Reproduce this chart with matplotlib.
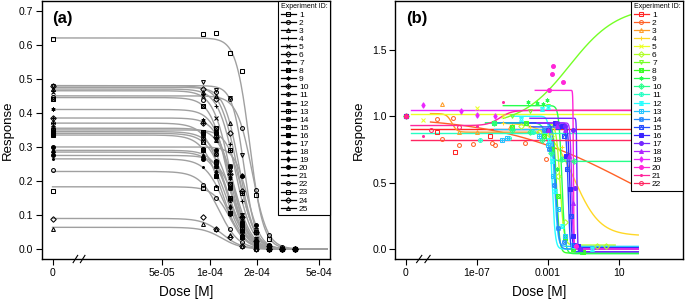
import colorsys
import numpy as np
import matplotlib
matplotlib.use("Agg")
import matplotlib.pyplot as plt
from matplotlib.lines import Line2D

plt.rcParams['font.family'] = ['Liberation Sans', 'DejaVu Sans']

# ---------------- panel (a): 25 experiments, grey fits ----------------
a_doses = [0, 9.1e-5, 1.105e-4, 1.34e-4, 1.62e-4, 1.97e-4, 2.39e-4, 2.9e-4, 3.5e-4]
a_zero = 1e-5          # where dose 0 sits on the broken log axis

a_top = [0.62, 0.45, 0.475, 0.47, 0.465, 0.48, 0.48, 0.445, 0.41, 0.385, 0.37, 0.355, 0.35,
         0.345, 0.34, 0.335, 0.30, 0.29, 0.285, 0.275, 0.265, 0.228, 0.183, 0.09, 0.064]
a_ed50 = [1.80e-4, 1.87e-4, 1.55e-4, 1.45e-4, 1.35e-4, 1.50e-4, 1.66e-4, 1.30e-4, 1.35e-4,
          1.40e-4, 1.25e-4, 1.45e-4, 1.60e-4, 1.35e-4, 1.30e-4, 1.20e-4, 1.75e-4, 1.35e-4,
          1.30e-4, 1.45e-4, 1.25e-4, 1.15e-4, 1.35e-4, 1.20e-4, 1.20e-4]
a_slope = [10, 9, 9, 8, 8, 8, 11.5, 8, 8, 8, 7, 8, 9, 7, 7, 7, 10, 8, 8, 8, 7, 7, 8, 7, 7]

a_resp = [
    [0.617, 0.633, 0.635, 0.577, 0.523, 0.16, 0.03, 0.0, 0.0],
    [0.448, 0.438, 0.46, 0.44, 0.355, 0.173, 0.04, 0.005, 0.0],
    [0.47, 0.46, 0.45, 0.37, 0.217, 0.05, 0.01, 0.0, 0.0],
    [0.465, 0.455, 0.42, 0.31, 0.14, 0.03, 0.01, 0.0, 0.0],
    [0.46, 0.45, 0.385, 0.245, 0.09, 0.02, 0.0, 0.0, 0.0],
    [0.48, 0.47, 0.44, 0.34, 0.17, 0.05, 0.01, 0.0, 0.0],
    [0.48, 0.49, 0.468, 0.443, 0.276, 0.056, 0.005, 0.0, 0.0],
    [0.44, 0.42, 0.355, 0.19, 0.07, 0.01, 0.0, 0.0, 0.0],
    [0.41, 0.38, 0.34, 0.21, 0.08, 0.02, 0.0, 0.0, 0.0],
    [0.385, 0.37, 0.33, 0.22, 0.095, 0.025, 0.0, 0.0, 0.0],
    [0.37, 0.335, 0.26, 0.145, 0.05, 0.015, 0.0, 0.0, 0.0],
    [0.355, 0.345, 0.32, 0.235, 0.10, 0.03, 0.005, 0.0, 0.0],
    [0.35, 0.345, 0.34, 0.29, 0.165, 0.05, 0.01, 0.0, 0.0],
    [0.345, 0.325, 0.28, 0.18, 0.075, 0.02, 0.0, 0.0, 0.0],
    [0.34, 0.315, 0.255, 0.15, 0.06, 0.02, 0.0, 0.0, 0.0],
    [0.335, 0.29, 0.215, 0.105, 0.035, 0.01, 0.0, 0.0, 0.0],
    [0.30, 0.295, 0.29, 0.245, 0.215, 0.07, 0.012, 0.0, 0.0],
    [0.29, 0.275, 0.245, 0.15, 0.055, 0.015, 0.0, 0.0, 0.0],
    [0.285, 0.27, 0.225, 0.125, 0.04, 0.01, 0.0, 0.0, 0.0],
    [0.275, 0.265, 0.245, 0.18, 0.08, 0.02, 0.0, 0.0, 0.0],
    [0.265, 0.24, 0.185, 0.10, 0.035, 0.01, 0.0, 0.0, 0.0],
    [0.232, 0.188, 0.15, 0.06, 0.02, 0.0, 0.0, 0.0, 0.0],
    [0.17, 0.18, 0.178, 0.105, 0.035, 0.01, 0.0, 0.0, 0.0],
    [0.088, 0.095, 0.06, 0.035, 0.01, 0.0, 0.0, 0.0, 0.0],
    [0.058, 0.075, 0.06, 0.04, 0.01, 0.0, 0.0, 0.0, 0.0],
]

# ---------------- panel (b): 22 experiments, rainbow fits ----------------
b_zero = -11.0         # log10 position of dose 0
b_left = [0.905, 1.0, 1.02, 0.95, 1.015, 0.95, 0.93, 0.95, 1.08, 0.95, 0.875,
          1.0, 0.90, 0.95, 0.92, 0.95, 0.985, 0.95, 1.05, 1.195, 0.93, 0.82]
b_right = [0.905, 0.0, 0.88, 0.10, 1.015, 0.03, 1.83, -0.03, -0.035, 0.66, 0.875,
           0.0, 0.02, 0.0, -0.02, 0.01, -0.02, 0.0, 1.05, 0.0, 1.045, 0.82]
b_loge = [0, 1.6, -8.4, -1.5, 0, -2.3, -1.78, -2.5, -2.2, -3.0, 0,
          -2.75, -2.6, -2.55, -1.85, -1.75, -1.35, -1.65, 0, -1.55, -5.7, 0]
b_hill = [1, 0.12, 3, 0.6, 1, 4, 0.32, 5, 5, 3, 1,
          5, 5, 5, 8, 8, 25, 10, 1, 30, 1.27, 1]
b_from = [-10.7, -9.6, -9.6, -6.0, -10.7, -6.0, -5.5, -6.5, -5.5, -6.5, -10.7,
          -5.0, -6.0, -6.0, -4.0, -4.0, -4.0, -3.6, -10.7, -3.7, -10.7, -10.7]
b_to = [2.1, 2.1, -3.5, 2.1, 2.1, 0.8, 2.1, 2.1, 2.1, 2.1, 2.1,
        2.1, 2.1, 2.1, 2.1, 2.1, 2.1, 2.1, 2.1, 2.1, 2.1, 2.1]

b_logdose = [
    [-11, -9.25, -8.2, -6.25],
    [-11, -9.25, -8.95, -8.35, -8.0, -7.2, -6.15, -5.95, -4.3, -3.1],
    [-11, -8.97, -8.0, -7.0, -5.1, -5.0],
    [-11, -5.5, -4.0, -3.0, -2.2, -1.4],
    [-11, -10.0, -7.0, -5.5],
    [-11, -4.5, -3.5, -2.8, -2.4, -2.0, -0.24, 0.29],
    [-11, -5.0, -4.0, -3.0],
    [-11, -6.0, -5.0, -4.2, -3.2, -2.8, -2.4, -2.0, -1.6, -1.0],
    [-11, -4.1, -3.6, -3.25, -3.06, -2.5, -2.0, -1.2],
    [-11, -6.0, -5.0, -4.0, -3.3, -2.8, -2.2, -1.5],
    [-11, -6.8, -5.2, -3.8],
    [-11, -4.5, -3.3, -3.0, -2.9, -2.75, -2.6, -2.2, -1.5, -0.5],
    [-11, -5.6, -5.3, -3.5, -3.0, -2.7, -2.4, -2.0, -1.6],
    [-11, -3.2, -2.9, -2.65, -2.4, -2.1],
    [-11, -3.0, -2.4, -2.1, -1.9, -1.7, -1.5, -1.2],
    [-11, -2.6, -2.2, -1.95, -1.75, -1.55, -1.3],
    [-11, -2.5, -2.0, -1.6, -1.46, -1.2],
    [-11, -3.0, -2.5, -2.0, -1.8, -1.6, -1.4],
    [-11, -10.0, -7.9, -7.0, -5.97],
    [-11, -2.93, -2.75, -2.7, -2.13, -1.4],
    [-11, -10.0, -7.0, -5.5],
    [-11, -9.6, -8.0],
]
b_resp = [
    [1.0, 0.88, 0.73, 0.85],
    [1.0, 0.98, 0.83, 0.99, 0.78, 0.79, 0.80, 0.78, 0.80, 0.68],
    [1.0, 1.095, 0.88, 0.88, 0.92, 0.93],
    [1.0, 0.95, 0.92, 0.88, 0.77, 0.47],
    [1.0, 0.97, 1.065, 1.0],
    [1.0, 0.93, 0.88, 0.85, 0.55, 0.2, 0.025, 0.025],
    [1.0, 1.0, 1.04, 1.08],
    [1.0, 0.95, 0.92, 0.95, 0.85, 0.75, 0.4, 0.08, 0.0, -0.02],
    [1.0, 1.107, 1.10, 1.095, 1.12, 0.6, 0.1, -0.02],
    [1.0, 0.95, 0.9, 0.88, 0.82, 0.72, 0.68, 0.66],
    [1.0, 0.82, 0.84, 0.88],
    [1.0, 0.98, 1.058, 1.07, 0.82, 0.66, 0.44, 0.17, 0.02, 0.0],
    [1.0, 0.82, 0.84, 0.85, 0.78, 0.55, 0.3, 0.1, 0.03],
    [1.0, 0.9, 0.75, 0.48, 0.16, 0.05],
    [1.0, 0.9, 0.92, 0.85, 0.6, 0.25, 0.03, 0.0],
    [1.0, 0.95, 0.93, 0.7, 0.45, 0.1, 0.02],
    [1.0, 0.95, 0.93, 0.9, 0.456, 0.0],
    [1.0, 0.9, 0.93, 0.9, 0.7, 0.35, 0.03],
    [1.0, 1.088, 1.04, 1.01, 1.0],
    [1.0, 1.2, 1.32, 1.38, 1.26, 0.02],
    [1.0, 0.85, 0.93, 1.107],
    [1.0, 0.9, 0.917],
]

# R plotting symbols (pch 0..24) approximated with matplotlib markers
pch_style = {
    0: [('s', False)], 1: [('o', False)], 2: [('^', False)], 3: [('+', False)],
    4: [('x', False)], 5: [('D', False)], 6: [('v', False)], 7: [('s', False), ('x', False)],
    8: [((6, 2, 0), False)], 9: [('D', False), ('+', False)], 10: [('o', False), ('+', False)],
    11: [('^', False), ('v', False)], 12: [('s', False), ('+', False)],
    13: [('o', False), ('x', False)], 14: [('s', False), ('^', False)],
    15: [('s', True)], 16: [('o', True)], 17: [('^', True)], 18: [('d', True)],
    19: [('o', True)], 20: [('.', True)], 21: [('o', False)], 22: [('s', False)],
    23: [('D', False)], 24: [('^', False)],
}
MS = 2.8


def draw_points(ax, x, y, pch, color):
    for m, filled in pch_style[pch]:
        ax.plot(x, y, linestyle='none', marker=m, ms=MS, mec=color,
                mfc=color if filled else 'none', mew=0.75, zorder=3, clip_on=False)


def legend_handle(pch, color, linecolor):
    parts = []
    for k, (m, filled) in enumerate(pch_style[pch]):
        parts.append(Line2D([], [], color=linecolor, lw=0.9 if k == 0 else 0,
                            marker=m, ms=MS, mec=color, mew=0.75,
                            mfc=color if filled else 'none'))
    return tuple(parts)


def break_marks(ax, x0, x1):
    w = (x1 - x0) / 2.6
    for xs in (x0, x0 + 1.6 * w):
        ax.plot([xs, xs + w], [-0.014, 0.014], transform=ax.transAxes,
                color='black', lw=0.8, clip_on=False, zorder=5)


def style_axes(ax):
    for sp in ax.spines.values():
        sp.set_linewidth(1.0)
    ax.minorticks_off()
    ax.tick_params(axis='both', which='major', direction='out', length=4, width=0.8,
                   labelsize=7.5)
    ax.tick_params(axis='x', pad=2.5)
    ax.tick_params(axis='y', pad=2)


def add_legend(ax, handles, n):
    leg = ax.legend(handles, [str(i + 1) for i in range(n)], loc='upper right',
                    bbox_to_anchor=(1, 1), borderaxespad=0, fontsize=6,
                    title='Experiment ID:', title_fontsize=5, alignment='left',
                    labelspacing=0.03, handlelength=1.8, handletextpad=0.4,
                    borderpad=0.3, fancybox=False, framealpha=1, edgecolor='black',
                    numpoints=1)
    leg.get_frame().set_linewidth(0.8)
    leg.set_zorder(10)


fig = plt.figure(figsize=(6.85, 3.0), dpi=100)
axa = fig.add_axes([41.7 / 685, 41 / 300, 288.3 / 685, 258 / 300])
axb = fig.add_axes([395 / 685, 41 / 300, 288 / 685, 258 / 300])

# ---- panel (a)
grid_a = np.logspace(-5, np.log10(5.6e-4), 400)
for i in range(25):
    fit = a_top[i] / (1 + (grid_a / a_ed50[i]) ** a_slope[i])
    axa.plot(grid_a, fit, color='#a0a0a0', lw=1.0, zorder=2)
for i in range(25):
    xs = [a_zero] + a_doses[1:]
    draw_points(axa, xs, a_resp[i], i, 'black')

axa.set_xscale('log')
axa.set_xlim(10 ** -5.069, 10 ** -3.233)
axa.set_ylim(-0.029, 0.7285)
axa.set_xticks([1e-5, 5e-5, 1e-4, 2e-4, 5e-4])
axa.set_xticklabels(['0', '5e-05', '1e-04', '2e-04', '5e-04'])
axa.set_yticks([0, 0.1, 0.2, 0.3, 0.4, 0.5, 0.6, 0.7])
axa.set_yticklabels(['0.0', '0.1', '0.2', '0.3', '0.4', '0.5', '0.6', '0.7'])
style_axes(axa)
break_marks(axa, 0.109, 0.150)
axa.text(0.035, 0.933, '(a)', transform=axa.transAxes, fontsize=12,
         fontweight='bold', va='center', ha='left')
add_legend(axa, [legend_handle(i, 'black', 'black') for i in range(25)], 25)

# ---- panel (b)
b_colors = [colorsys.hsv_to_rgb(i / 22, 0.85, 1.0) for i in range(22)]
for i in range(22):
    lx = np.linspace(b_from[i], b_to[i], 500)
    fit = b_right[i] + (b_left[i] - b_right[i]) / (1 + 10 ** (b_hill[i] * (lx - b_loge[i])))
    axb.plot(10 ** lx, fit, color=b_colors[i], lw=1.0, zorder=2)
for i in range(22):
    draw_points(axb, 10 ** np.array(b_logdose[i], dtype=float), b_resp[i], i, b_colors[i])

axb.set_xscale('log')
axb.set_xlim(10 ** -11.6, 10 ** 4.62)
axb.set_ylim(-0.075, 1.868)
axb.set_xticks([10 ** b_zero, 1e-7, 1e-3, 10])
axb.set_xticklabels(['0', '1e-07', '0.001', '10'])
axb.set_yticks([0, 0.5, 1.0, 1.5])
axb.set_yticklabels(['0.0', '0.5', '1.0', '1.5'])
style_axes(axb)
break_marks(axb, 0.075, 0.122)
axb.text(0.04, 0.933, '(b)', transform=axb.transAxes, fontsize=12,
         fontweight='bold', va='center', ha='left')
add_legend(axb, [legend_handle(i, b_colors[i], b_colors[i]) for i in range(22)], 22)

for ax, ylx in ((axa, -0.098), (axb, -0.106)):
    ax.set_xlabel('Dose [M]', fontsize=9.8)
    ax.set_ylabel('Response', fontsize=9.5)
    ax.xaxis.set_label_coords(0.5, -0.10)
    ax.yaxis.set_label_coords(ylx, 0.5)

fig.savefig('out.png', dpi=100)
